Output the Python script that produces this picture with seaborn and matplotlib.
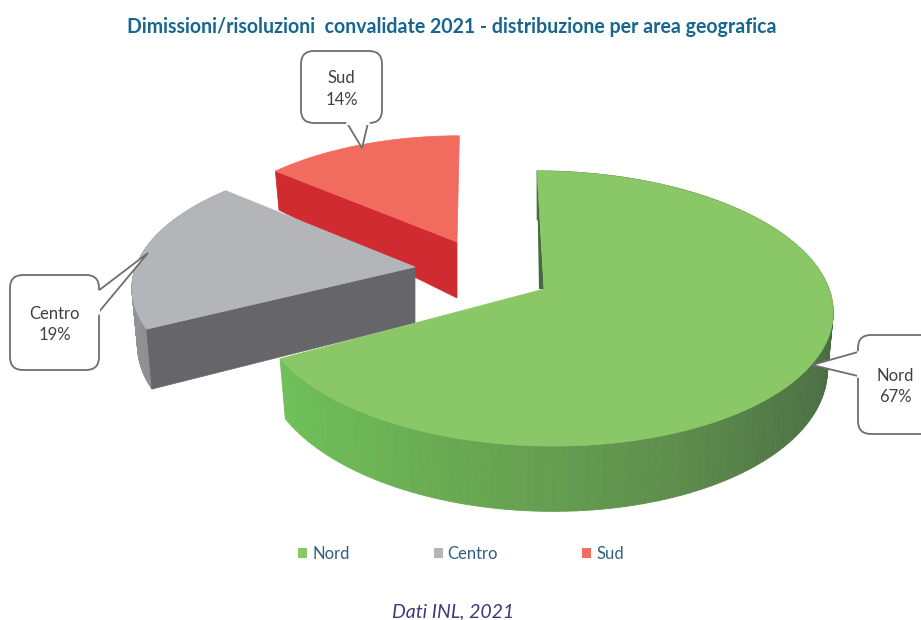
import numpy as np
import seaborn as sns
import matplotlib.pyplot as plt
from matplotlib.collections import PolyCollection
from matplotlib.patches import FancyBboxPatch, Patch, Polygon

#########################
# Data
#########################

areas = ['Nord', 'Centro', 'Sud']
shares = [67, 19, 14]
title = 'Dimissioni/risoluzioni  convalidate 2021 - distribuzione per area geografica'
source = 'Dati INL, 2021'

#########################
# Parameters
#########################

top_colors = ['#8ac766', '#b4b5b9', '#f26b5f']
cut_colors = ['#44693f', '#666569', '#d02b31']
text_color = '#404040'

# pie seen in perspective
rx, ry, persp = 285, 134.8, 0.142
depth = 56
# per slice: apex, x scale, y scale, shear, angle shift, rim depth factor
layout = {
    'Nord': ((544, 289), 1.0, 1.0, -8, 0, 1.0),
    'Centro': ((415, 267), 0.98, 0.94, 6, -1.5, 1.0),
    'Sud': ((457, 242), 0.91, 0.9, 3, 0, 0.76),
}

sns.set_theme(style='white')
plt.rcParams['font.family'] = ['Lato', 'DejaVu Sans']

#########################
# Functions
#########################


def rim(theta, apex, sx, sy, shear, dfac):
    # top rim and lower rim of a slice for angles in degrees
    t = np.radians(theta)
    w = 1 + persp * np.sin(t)
    dx = sx * (rx * np.cos(t) + shear * np.sin(t)) / w
    dy = -sy * ry * np.sin(t) / w
    top = np.column_stack([apex[0] + dx, apex[1] + dy])
    low = np.column_stack([apex[0] + 0.98 * dx, apex[1] + dy + dfac * depth / w])
    return top, low


def wall(ax, top, low, colors):
    # side wall as thin quads so that the shading can vary along it
    quads = [[top[i], top[i + 1], low[i + 1], low[i]] for i in range(len(top) - 1)]
    ax.add_collection(PolyCollection(quads, facecolors=colors, edgecolors=colors, linewidths=0.6))


def callout(ax, box, base, tip, label, text_x=None):
    x0, y0, x1, y1 = box
    ax.add_patch(FancyBboxPatch((x0 + 13, y0 + 13), x1 - x0 - 26, y1 - y0 - 26,
                                boxstyle='round,pad=13,rounding_size=13',
                                fc='white', ec='#6e6e6e', lw=1.3, zorder=5))
    ax.add_patch(Polygon([base[0], tip, base[1]], closed=False, fc='white', ec='#6e6e6e',
                         lw=1.3, zorder=6, joinstyle='miter'))
    ax.plot([base[0][0], base[1][0]], [base[0][1], base[1][1]], color='white', lw=2.2, zorder=7)
    if text_x is None:
        text_x = (x0 + x1) / 2
    ax.text(text_x, (y0 + y1) / 2 + 2, label, ha='center', va='center',
            fontsize=12, color=text_color, linespacing=1.45, zorder=8)


#########################
# Plot
#########################

fig = plt.figure(figsize=(9.21, 6.2), dpi=100)
ax = fig.add_axes([0, 0, 1, 1])
ax.set_xlim(0, 921)
ax.set_ylim(620, 0)
ax.axis('off')

# slice angles, clockwise from the top
edges = 90 - np.cumsum([0] + shares) * 3.6

# far slices first, Nord sits over the others
for i in [2, 1, 0]:
    apex, sx, sy, shear, shift, dfac = layout[areas[i]]
    theta = np.linspace(edges[i] + shift, edges[i + 1] + shift, 160)
    top, low = rim(theta, apex, sx, sy, shear, dfac)
    low_apex = (apex[0], apex[1] + depth)

    if areas[i] == 'Nord':
        shades = sns.blend_palette(['#3f6a3c', '#44693f', '#44693f', '#46693f', '#4a6d42',
                                    '#527a47', '#5f8f4d', '#67a251', '#6cb455', '#6fc05a'], 159)
        wall(ax, top, low, shades)
        # cut face seen as a thin strip beside the top edge
        ax.add_patch(Polygon([top[0], apex, (apex[0] - 5, apex[1])], fc=cut_colors[i], ec='none'))
    else:
        if areas[i] == 'Centro':
            wall(ax, top, low, sns.blend_palette(['#8f9094', '#97989c'], 159))
        # cut face on the side turned to the viewer
        ax.add_patch(Polygon([apex, top[0], low[0], low_apex], fc=cut_colors[i], ec=cut_colors[i], lw=0.5))

    ax.add_patch(Polygon(np.vstack([[apex], top]), fc=top_colors[i], ec=top_colors[i], lw=0.5))

ax.text(452, 27, title, ha='center', va='center', fontsize=14.05, fontweight='bold', color='#17668f')

callout(ax, (301, 51, 382, 123), ((347, 123), (368, 123)), (362, 148), 'Sud\n14%')
callout(ax, (10, 275, 99, 370), ((98, 291), (98, 313)), (148, 253), 'Centro\n19%')
callout(ax, (858, 335, 935, 434), ((858, 352), (858, 376)), (812, 365), 'Nord\n67%', text_x=895)

handles = [Patch(fc=c, ec='none', label=a) for c, a in zip(top_colors, areas)]
ax.legend(handles=handles, ncol=3, loc='center', bbox_to_anchor=(461 / 921, 1 - 554 / 620),
          frameon=False, fontsize=12, handlelength=0.55, handleheight=0.55, handletextpad=0.3,
          columnspacing=5.04, labelcolor='#2f607f')

ax.text(453, 612, source, ha='center', va='center', fontsize=14, style='italic', color='#3b3b7d')

plt.savefig('out.png', dpi=100)
